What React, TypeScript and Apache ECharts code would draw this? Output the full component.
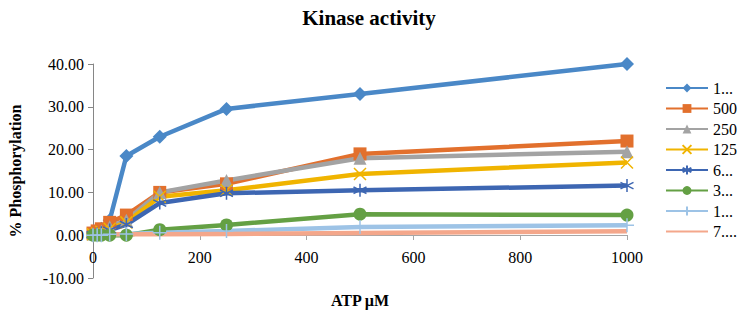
import React, { useEffect, useRef } from "react";
import * as echarts from "echarts";

const atpValues = [0, 7.8125, 15.625, 31.25, 62.5, 125, 250, 500, 1000];
const seriesNames = ["1000", "500", "250", "125", "62.5", "31.25", "15.625", "7.8125"];
const legendLabels = ["1...", "500", "250", "125", "6...", "3...", "1...", "7...."];
const s1000 = [0.5, 0.8, 1.5, 3.5, 18.5, 23, 29.5, 33, 40];
const s500 = [0.5, 1, 1.5, 3, 4.7, 10, 12, 19, 22];
const s250 = [0.3, 0.5, 1, 2, 3.5, 10, 12.8, 18, 19.5];
const s125 = [0.2, 0.4, 0.8, 1.5, 3, 9, 10.5, 14.3, 17];
const s62 = [0.1, 0.3, 0.6, 1.2, 2.5, 7.5, 9.8, 10.5, 11.6];
const s31 = [0, 0, 0, 0, 0, 1.3, 2.4, 4.9, 4.7];
const s15 = [0, 0, 0, 0.2, 0.3, 0.6, 1, 1.9, 2.3];
const s7 = [0.4, 0.3, 0.2, 0.2, 0.2, 0.2, 0.3, 0.5, 0.9];
const yTicks = { min: -10, max: 40, interval: 10 };
const xTicks = { min: 0, max: 1000, interval: 200 };

const allValues = [s1000, s500, s250, s125, s62, s31, s15, s7];
const colors = ["#4A88C7", "#E2702D", "#A3A3A3", "#F0B400", "#3D66B2", "#64A044", "#9DC3E6", "#F4A78B"];
const FONT = "Liberation Serif";

const X_PATH = "path://M0,0L10,10M10,0L0,10";
const STAR_PATH = "path://M5,0L5,10M0.8,2.5L9.2,7.5M9.2,2.5L0.8,7.5";
const PLUS_PATH = "path://M5,0L5,10M0,5L10,5";
const symbols: any[] = ["diamond", "rect", "triangle", X_PATH, STAR_PATH, "circle", PLUS_PATH, "none"];
const symbolSizes = [14, 13, 13, 12, 13, 13, 14, 0];

export default function App() {
  const ref = useRef<HTMLDivElement>(null);
  useEffect(() => {
    if (!ref.current) return;
    const chart = echarts.init(ref.current, undefined, { renderer: "svg" });
    const series = seriesNames.map((name, i) => {
      const isStroke = i === 3 || i === 4 || i === 6;
      return {
        name,
        type: "line",
        data: atpValues.map((x, j) => [x, allValues[i][j]]),
        symbol: symbols[i],
        symbolSize: symbolSizes[i],
        showSymbol: i !== 7,
        lineStyle: { color: colors[i], width: 4.5 },
        itemStyle: {
          color: colors[i],
          borderColor: colors[i],
          borderWidth: isStroke ? 1.5 : 0,
        },
        emphasis: { disabled: true },
      };
    });
    chart.setOption({
      animation: false,
      color: colors,
      textStyle: { fontFamily: FONT },
      title: {
        text: "Kinase activity",
        left: "center",
        top: 2,
        textStyle: { fontFamily: FONT, fontSize: 21, fontWeight: "bold", color: "#000" },
      },
      grid: {
        left: 93,
        right: 111,
        top: 64,
        bottom: 34,
        containLabel: false,
        outerBoundsMode: "none",
      },
      legend: {
        orient: "vertical",
        left: 660,
        top: 75,
        itemWidth: 42,
        itemHeight: 11,
        itemGap: 4.5,
        data: seriesNames.map((name, i) =>
          symbols[i] === "none" ? { name, itemStyle: { opacity: 0 } } : { name }
        ),
        formatter: (name: string) => legendLabels[seriesNames.indexOf(name)],
        textStyle: { fontFamily: FONT, fontSize: 16, color: "#000" },
      },
      xAxis: {
        type: "value",
        min: xTicks.min,
        max: xTicks.max,
        interval: xTicks.interval,
        offset: -43,
        name: "ATP µM",
        nameLocation: "middle",
        nameGap: 57,
        nameTextStyle: { fontFamily: FONT, fontSize: 16, fontWeight: "bold", color: "#000" },
        axisLine: { onZero: false, lineStyle: { color: "#A6A6A6", width: 1 } },
        axisTick: { show: true, length: 5, lineStyle: { color: "#A6A6A6" } },
        axisLabel: {
          fontFamily: FONT,
          fontSize: 16,
          color: "#000",
          margin: 14,
          formatter: (v: number) => String(v),
        },
        splitLine: { show: false },
      },
      yAxis: {
        type: "value",
        min: yTicks.min,
        max: yTicks.max,
        interval: yTicks.interval,
        name: "% Phosphorylation",
        nameLocation: "middle",
        nameGap: 70,
        nameTextStyle: { fontFamily: FONT, fontSize: 16, fontWeight: "bold", color: "#000" },
        axisLine: { show: true, lineStyle: { color: "#868686", width: 1 } },
        axisTick: { show: true, length: 5, lineStyle: { color: "#868686" } },
        axisLabel: {
          fontFamily: FONT,
          fontSize: 16,
          color: "#000",
          margin: 9,
          formatter: (v: number) => v.toFixed(2),
        },
        splitLine: { show: false },
      },
      series,
    });
    return () => chart.dispose();
  }, []);
  return (
    <div
      ref={ref}
      style={{ position: "absolute", left: 0, top: 0, width: 738, height: 312, background: "#fff" }}
    />
  );
}
